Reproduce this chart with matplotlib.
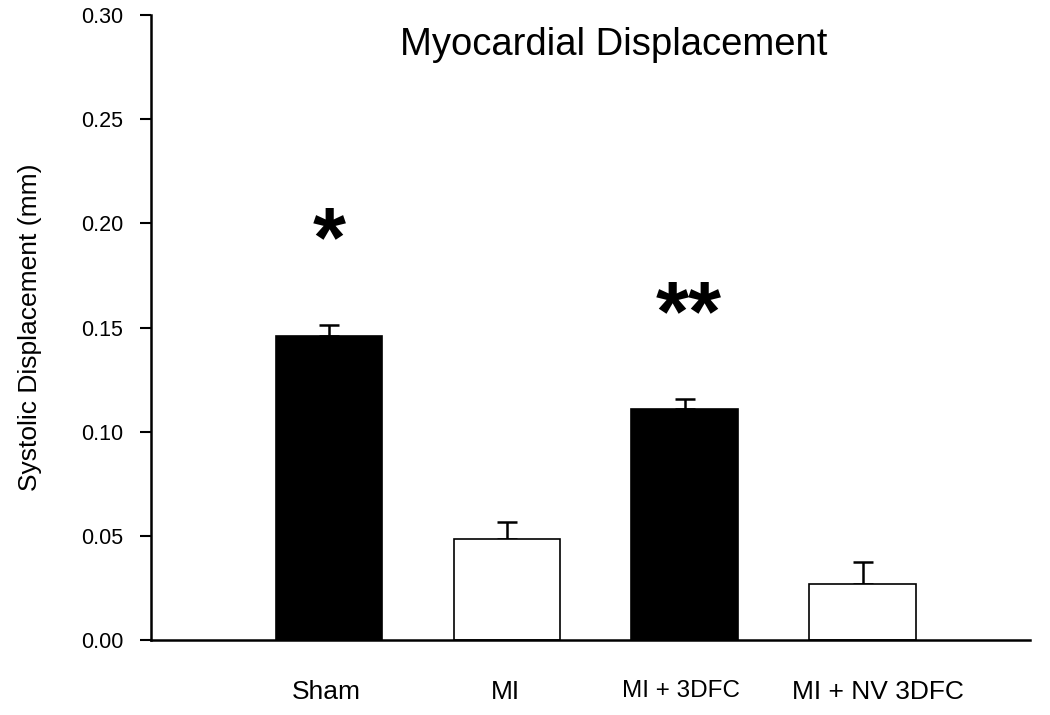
import numpy as np
import matplotlib.pyplot as plt

plt.rcParams['font.family'] = ['Liberation Sans', 'DejaVu Sans']

# data
groups = ["Sham", "MI", "MI + 3DFC", "MI + NV 3DFC"]
means = [0.1459, 0.0485, 0.1109, 0.0269]
errs = [0.0053, 0.0081, 0.0048, 0.0105]
fills = ["black", "white", "black", "white"]
marks = ["*", "", "**", ""]
label_sizes = [19, 19, 17.5, 19]

fig = plt.figure(figsize=(10.5, 7.15), dpi=100)
ax = fig.add_axes([0.1438, 0.1049, 0.8372, 0.8741])

x = np.arange(len(groups))
ax.bar(x, means, width=0.6, color=fills, edgecolor="black", linewidth=1.2, zorder=2)
ax.errorbar(x, means, yerr=[np.zeros(len(errs)), errs], fmt="none",
            ecolor="black", elinewidth=1.8, capsize=7, capthick=1.8, zorder=1)

# significance stars (the double one sits a touch right of centre)
for xi, m, e, s in zip(x, means, errs, marks):
    if s:
        ax.text(xi + 0.022 * (len(s) - 1), m + e + 0.039, s, ha="center",
                va="center", fontsize=61, fontweight="bold")

ax.set_xlim(-1.0, 3.94)
ax.set_ylim(0, 0.30)
ticks = np.arange(0, 0.31, 0.05)
ax.set_yticks(ticks)
ax.set_yticklabels(["%.2f" % v for v in ticks], fontsize=15.5)
# labels are not exactly centred under the bars in the original
ax.set_xticks(x + np.array([-0.015, -0.01, -0.02, 0.085]))
ax.set_xticklabels(groups)
for lab, fs in zip(ax.get_xticklabels(), label_sizes):
    lab.set_fontsize(fs)
ax.tick_params(axis="x", length=0, pad=29)
ax.tick_params(axis="y", direction="out", length=8, width=1.5, pad=12)

for side in ["top", "right"]:
    ax.spines[side].set_visible(False)
for side in ["left", "bottom"]:
    ax.spines[side].set_linewidth(1.8)

ax.set_ylabel("Systolic Displacement (mm)", fontsize=19, labelpad=28)
ax.set_title("Myocardial Displacement", fontsize=27.5, x=0.526, y=0.922)

fig.savefig("out.png", dpi=100)
